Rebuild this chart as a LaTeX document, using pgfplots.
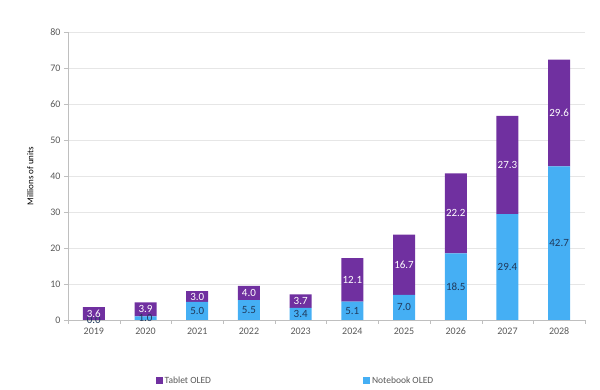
\documentclass[border=0pt]{standalone}
\usepackage{fontspec}
\setmainfont{Carlito}
\usepackage{pgfplots}
\pgfplotsset{compat=1.18}
\definecolor{tab}{HTML}{7030A0}
\definecolor{nb}{HTML}{45AFF4}
\definecolor{txt}{HTML}{595959}
\definecolor{nblab}{HTML}{203A5C}
\definecolor{gridc}{HTML}{E6E6E6}
\definecolor{axc}{HTML}{BFBFBF}
\begin{document}
\begin{tikzpicture}
\pgfplotsset{common/.style={
  scale only axis, width=517pt, height=288pt,
  xmin=-0.5, xmax=9.5, ymin=0, ymax=80,
}}
\begin{axis}[common,
  ybar stacked, bar width=22pt,
  axis x line*=bottom, axis y line*=left,
  axis line style={axc},
  xtick={0,...,9},
  xticklabels={2019,2020,2021,2022,2023,2024,2025,2026,2027,2028},
  major x tick style={draw=none},
  minor xtick={-0.5,0.5,...,9.5},
  minor x tick style={axc},
  minor tick length=4pt,
  x tick label style={font=\fontsize{10}{11}\selectfont, text=txt},
  ytick={0,10,...,80},
  ymajorgrids, grid style={gridc},
  major y tick style={axc},
  major tick length=4pt,
  tick align=outside,
  y tick label style={font=\fontsize{10}{11}\selectfont, text=txt},
  /pgf/number format/assume math mode=true,
  ylabel={Millions of units},
  ylabel style={font=\fontsize{9}{10}\selectfont, text=black, yshift=10pt},
  legend style={at={(0.44,-0.21)}, anchor=center, draw=none, font=\fontsize{9.5}{10}\selectfont, text=txt,
    /tikz/every even column/.append style={column sep=150pt}},
  legend columns=2,
  legend image code/.code={\fill[#1] (0pt,-3.5pt) rectangle (7pt,3.5pt);},
]
\addplot[fill=nb, draw=none, forget plot] coordinates {(0,0.0) (1,1.0) (2,5.0) (3,5.5) (4,3.4) (5,5.1) (6,7.0) (7,18.5) (8,29.4) (9,42.7)};
\addplot[fill=tab, draw=none, forget plot] coordinates {(0,3.6) (1,3.9) (2,3.0) (3,4.0) (4,3.7) (5,12.1) (6,16.7) (7,22.2) (8,27.3) (9,29.6)};
\addlegendimage{fill=tab, draw=none}
\addlegendentry{Tablet OLED}
\addlegendimage{fill=nb, draw=none}
\addlegendentry{Notebook OLED}
\end{axis}
\begin{axis}[common, axis lines=none, clip=false]
\addplot[only marks, mark=none, point meta=explicit symbolic, nodes near coords,
  nodes near coords align={center},
  every node near coord/.style={anchor=center, font=\fontsize{11}{12}\selectfont, text=nblab}]
  coordinates {(0,0.0)[0.0] (1,0.5)[1.0] (2,2.5)[5.0] (3,2.75)[5.5] (4,1.7)[3.4] (5,2.55)[5.1] (6,3.5)[7.0] (7,9.25)[18.5] (8,14.7)[29.4] (9,21.35)[42.7]};
\addplot[only marks, mark=none, point meta=explicit symbolic, nodes near coords,
  nodes near coords align={center},
  every node near coord/.style={anchor=center, font=\fontsize{11}{12}\selectfont, text=white}]
  coordinates {(0,1.8)[3.6] (1,2.95)[3.9] (2,6.5)[3.0] (3,7.5)[4.0] (4,5.25)[3.7] (5,11.15)[12.1] (6,15.35)[16.7] (7,29.6)[22.2] (8,43.05)[27.3] (9,57.5)[29.6]};
\end{axis}
\useasboundingbox (-68pt,-70pt) rectangle (532pt,320pt);
\end{tikzpicture}
\end{document}
